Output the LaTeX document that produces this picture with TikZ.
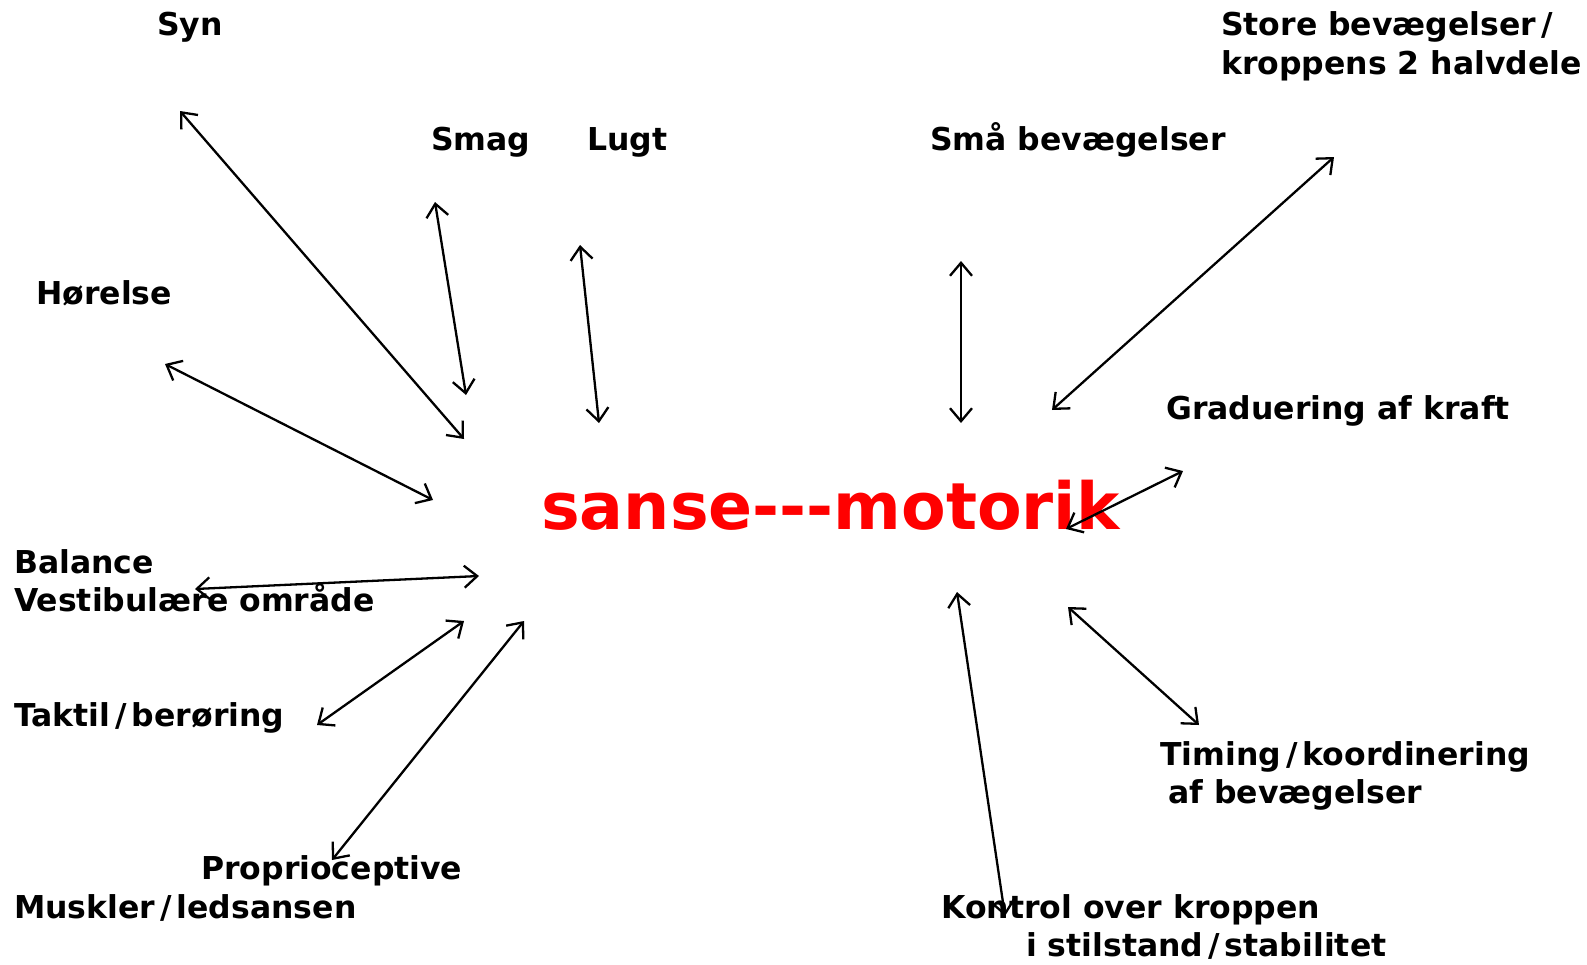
\documentclass[tikz,border=0pt]{standalone}
\usepackage{fontspec}
\setmainfont{DejaVu Sans}
\usetikzlibrary{arrows.meta}
\definecolor{titlered}{RGB}{255,0,0}
\newcommand\slsh{\hspace{5pt}/\hspace{5pt}}
\newcommand\hyph{\mbox{-}}
\tikzset{
  lbl/.style={anchor=base west, inner sep=0pt, font=\fontsize{31.5}{38}\selectfont\bfseries},
  ttl/.style={anchor=base west, inner sep=0pt, text=titlered, font=\fontsize{65}{78}\selectfont\bfseries},
  link/.style={line width=2.3pt, {Straight Barb[length=13pt,width=22pt,line width=2.3pt]}-{Straight Barb[length=13pt,width=22pt,line width=2.3pt]}}
}
\begin{document}
\begin{tikzpicture}[x=1pt,y=-1pt]
\useasboundingbox (0,0) rectangle (1587,964);
% labels
\node[lbl] (syn) at (157,35) {Syn};
\node[lbl] (smag) at (431,150) {Smag};
\node[lbl] (lugt) at (587,150) {Lugt};
\node[lbl] (sma) at (930,150) {Små bevægelser};
\node[lbl] (store1) at (1221,35) {Store bevægelser\slsh};
\node[lbl] (store2) at (1221,74) {kroppens 2 halvdele};
\node[lbl] (horelse) at (36,304) {Hørelse};
\node[lbl] (grad) at (1166,419) {Graduering af kraft};
\node[lbl] (bal1) at (14,573) {Balance};
\node[lbl] (bal2) at (14,611) {Vestibulære område};
\node[lbl] (taktil) at (14,726) {Taktil\slsh berøring};
\node[lbl] (tim1) at (1160,765) {Timing\slsh koordinering};
\node[lbl] (tim2) at (1168,803) {af bevægelser};
\node[lbl] (prop1) at (201,879) {Proprioceptive};
\node[lbl] (prop2) at (14,918) {Muskler\slsh ledsansen};
\node[lbl] (kon1) at (941,918) {Kontrol over kroppen};
\node[lbl] (kon2) at (1026,956) {i stilstand\slsh stabilitet};
\node[ttl] (title) at (541,529) {sanse\hyph\hyph\hyph motorik};
% arrow end points
\coordinate (synA) at (180,111);  \coordinate (synB) at (464,439);
\coordinate (smagA) at (435,202); \coordinate (smagB) at (466,395);
\coordinate (lugtA) at (580,245); \coordinate (lugtB) at (599,423);
\coordinate (horA) at (165,364);  \coordinate (horB) at (433,500);
\coordinate (balA) at (195,589);  \coordinate (balB) at (479,576);
\coordinate (takA) at (317,725);  \coordinate (takB) at (464,621);
\coordinate (propA) at (332,860); \coordinate (propB) at (524,621);
\coordinate (smaA) at (961,261);  \coordinate (smaB) at (961,423);
\coordinate (storeA) at (1334,157); \coordinate (storeB) at (1052,410);
\coordinate (gradA) at (1183,471); \coordinate (gradB) at (1066,529);
\coordinate (timA) at (1068,607); \coordinate (timB) at (1199,725);
\coordinate (konA) at (957,592);  \coordinate (konB) at (1005,916);
% connectors
\draw[link] (synA) -- (synB);
\draw[link] (smagA) -- (smagB);
\draw[link] (lugtA) -- (lugtB);
\draw[link] (horA) -- (horB);
\draw[link] (balA) -- (balB);
\draw[link] (takA) -- (takB);
\draw[link] (propA) -- (propB);
\draw[link] (smaA) -- (smaB);
\draw[link] (storeA) -- (storeB);
\draw[link] (gradA) -- (gradB);
\draw[link] (timA) -- (timB);
\draw[link] (konA) -- (konB);
\end{tikzpicture}
\end{document}
